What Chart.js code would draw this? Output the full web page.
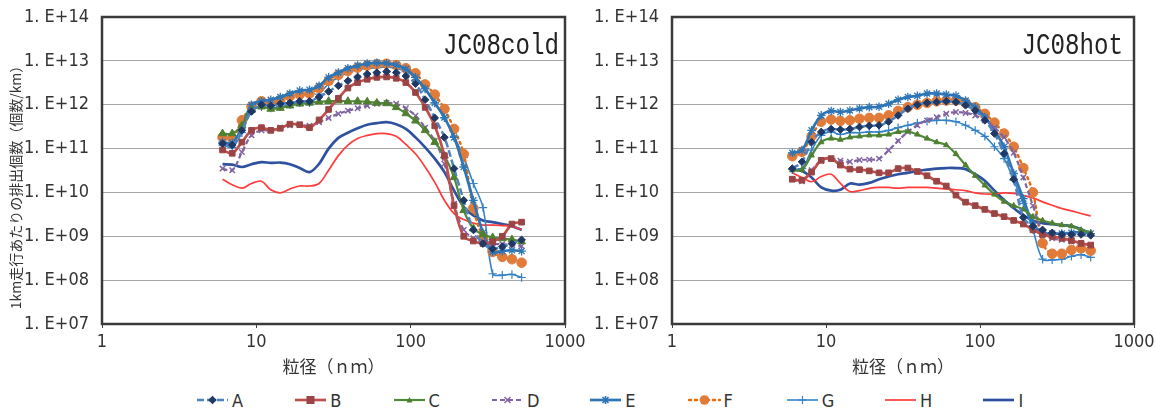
<!DOCTYPE html>
<html><head><meta charset="utf-8">
<script src="https://cdn.jsdelivr.net/npm/chart.js@4.4.1/dist/chart.umd.min.js"></script>
<style>
html,body{margin:0;padding:0;background:#fff;width:1156px;height:410px;overflow:hidden;}
#c1{position:absolute;left:0;top:0;}
#c2{position:absolute;left:575px;top:0;}
#legend{position:absolute;left:0;top:389px;width:1156px;height:22px;}
.item{position:absolute;top:0;height:22px;display:flex;align-items:center;font-family:'Liberation Sans Narrow','DejaVu Sans Condensed',sans-serif;font-size:18px;color:#333;}
.item svg{margin-right:3px;}
</style></head><body>
<canvas id="c1" width="590" height="380"></canvas>
<canvas id="c2" width="581" height="380"></canvas>
<div id="legend"></div>
<script>
// ---------- data ----------
const sizes = [6.04, 6.98, 8.06, 9.31, 10.8, 12.4, 14.3, 16.5, 19.1, 22.1, 25.5, 29.4, 34.0, 39.2, 45.3, 52.3, 60.4, 69.8, 80.6, 93.1, 107.5, 124.1, 143.3, 165.5, 191.1, 220.7, 254.8, 294.3, 339.8, 392.4, 453.2, 523.3];
const seriesNames = ['A','B','C','D','E','F','G','H','I'];
const xTickValues = [1, 10, 100, 1000];
const xTickLabels = ['1', '10', '100', '1000'];
const yTickValues = [1e7, 1e8, 1e9, 1e10, 1e11, 1e12, 1e13, 1e14];
const yTickLabels = ['1. E+07', '1. E+08', '1. E+09', '1. E+10', '1. E+11', '1. E+12', '1. E+13', '1. E+14'];
const chartTitles = ['JC08cold', 'JC08hot'];
const yAxisTitle = '1km走行あたりの排出個数（個数/km）';
const xAxisTitle = '粒径（ｎｍ）';

const coldA = [1.3e11, 1.2e11, 2.6e11, 7e11, 1e12, 9.5e11, 1.05e12, 1.1e12, 1.2e12, 1.2e12, 1.5e12, 2e12, 2.7e12, 3.5e12, 4.3e12, 5e12, 5.4e12, 5.7e12, 5.4e12, 4.5e12, 3e12, 1.3e12, 5e11, 1.8e11, 3.5e10, 6.6e9, 1.4e9, 6.8e8, 5.2e8, 5.8e8, 6.8e8, 8.3e8];
const coldB = [9.3e10, 7.8e10, 1.4e11, 2.6e11, 3e11, 2.6e11, 2.9e11, 3.6e11, 3.5e11, 3e11, 4.5e11, 7.8e11, 1.4e12, 2.4e12, 3.2e12, 3.8e12, 4.2e12, 4.3e12, 4e12, 3.2e12, 1.9e12, 8.7e11, 3.3e11, 6.9e10, 5e9, 1e9, 7.8e8, 6.8e8, 7.5e8, 1e9, 1.9e9, 2.1e9];
const coldC = [2.2e11, 2.2e11, 3.3e11, 7.6e11, 9e11, 8e11, 8.4e11, 9.5e11, 1.05e12, 1.1e12, 1.17e12, 1.2e12, 1.23e12, 1.2e12, 1.2e12, 1.17e12, 1.1e12, 1.07e12, 8.7e11, 6.3e11, 4.3e11, 2.6e11, 1.4e11, 6.9e10, 2.2e10, 3.9e9, 1.5e9, 1.1e9, 9.4e8, 8.9e8, 8.4e8, 7.6e8];
const coldD = [3.5e10, 3.2e10, 8.3e10, 2e11, 2.6e11, 2.6e11, 3e11, 3.4e11, 3.5e11, 3.3e11, 4e11, 5e11, 6.2e11, 7.3e11, 8.3e11, 9.5e11, 1.05e12, 1.1e12, 1.05e12, 8.3e11, 5.6e11, 3e11, 1.5e11, 4.5e10, 5.5e9, 1.4e9, 9e8, 7.6e8, 6.8e8, 6.6e8, 6.3e8, 6e8];
const coldE = [1.4e11, 1.35e11, 3e11, 1e12, 1.2e12, 1.3e12, 1.5e12, 1.8e12, 2.1e12, 2.2e12, 2.7e12, 4.2e12, 5.4e12, 6.8e12, 7.8e12, 8.7e12, 9e12, 8.8e12, 8e12, 6.5e12, 4.2e12, 2.3e12, 1.1e12, 5.1e11, 1.8e11, 3.8e10, 6.6e9, 1.2e9, 4.4e8, 4.6e8, 4.8e8, 4.6e8];
const coldF = [1.8e11, 1.7e11, 4.4e11, 9e11, 1.2e12, 1.1e12, 1.28e12, 1.55e12, 1.7e12, 1.8e12, 2.4e12, 3.5e12, 4.8e12, 5.9e12, 7e12, 7.8e12, 8.4e12, 8.6e12, 8e12, 6.8e12, 5.2e12, 2.9e12, 1.7e12, 8e11, 2.8e11, 7.5e10, 4.4e9, 9.3e8, 4.4e8, 3.4e8, 3e8, 2.5e8];
const coldG = [1.2e11, 1.07e11, 2.3e11, 7.3e11, 9e11, 8.4e11, 9e11, 1e12, 1.1e12, 1.1e12, 1.75e12, 3e12, 4.2e12, 5.4e12, 6.3e12, 6.8e12, 7e12, 7.3e12, 6.8e12, 5.7e12, 4.2e12, 2.4e12, 1.1e12, 5e11, 1.9e11, 6.3e10, 1.6e10, 4.5e9, 1.4e8, 1.3e8, 1.35e8, 1.15e8];
const coldH = [2e10, 1.5e10, 1.25e10, 1.6e10, 1.8e10, 1.15e10, 9.8e9, 1.2e10, 1.4e10, 1.4e10, 1.6e10, 3.2e10, 6.9e10, 1.2e11, 1.7e11, 2e11, 2.2e11, 2.2e11, 1.9e11, 1.25e11, 7.6e10, 3.8e10, 1.7e10, 6.6e9, 3.3e9, 2.4e9, 2e9, 1.8e9, 1.8e9, 1.75e9, 1.7e9, 1.4e9];
const coldI = [4.4e10, 4.3e10, 3.8e10, 4.4e10, 4.9e10, 4.7e10, 4.8e10, 4.4e10, 3.6e10, 2.9e10, 4.5e10, 1e11, 1.75e11, 2.3e11, 2.9e11, 3.5e11, 3.8e11, 4e11, 3.6e11, 2.8e11, 1.8e11, 1.07e11, 5.9e10, 2.9e10, 1.1e10, 4.7e9, 3e9, 2.3e9, 2.1e9, 1.9e9, 1.7e9, 1.4e9];

const hotA = [3.5e10, 5e10, 1.4e11, 2.4e11, 2.8e11, 2.7e11, 2.8e11, 3.1e11, 3.3e11, 3.4e11, 4.1e11, 5.7e11, 8.1e11, 1e12, 1.1e12, 1.15e12, 1.2e12, 1.15e12, 9.7e11, 7.4e11, 4.4e11, 2.2e11, 7.7e10, 2e10, 2.7e9, 1.7e9, 1.4e9, 1.2e9, 1.1e9, 1.1e9, 1.1e9, 1.05e9];
const hotB = [2e10, 1.9e10, 2.9e10, 5.4e10, 5.9e10, 4.2e10, 3.4e10, 3.3e10, 3.1e10, 2.8e10, 2.8e10, 3.5e10, 3.6e10, 3e10, 2.4e10, 1.8e10, 1.4e10, 8.7e9, 6e9, 5e9, 4.1e9, 3.3e9, 2.8e9, 2.3e9, 1.9e9, 1.4e9, 1.1e9, 1e9, 9e8, 8e8, 6.9e8, 6.3e8];
const hotC = [3.2e10, 3.3e10, 7e10, 1.4e11, 1.7e11, 1.6e11, 1.8e11, 1.9e11, 2e11, 2e11, 2.1e11, 2.4e11, 2.45e11, 2.1e11, 1.7e11, 1.4e11, 1.2e11, 7.5e10, 4.2e10, 2.4e10, 1.45e10, 9e9, 6.2e9, 5e9, 4.1e9, 2.8e9, 2.3e9, 2e9, 1.8e9, 1.7e9, 1.4e9, 1.2e9];
const hotD = [2e10, 1.8e10, 3.2e10, 5.3e10, 5.9e10, 5.3e10, 5e10, 5.5e10, 5.6e10, 5.9e10, 9.1e10, 1.5e11, 2.4e11, 3.4e11, 4.4e11, 5.2e11, 6.2e11, 6.8e11, 6.5e11, 5.7e11, 4.4e11, 3e11, 1.8e11, 8e10, 2.2e10, 5e9, 1.3e9, 9e8, 8.3e8, 7.6e8, 6.9e8, 6.3e8];
const hotE = [8e10, 9.2e10, 2.6e11, 5.7e11, 7.2e11, 6.8e11, 7.4e11, 8.2e11, 8.8e11, 9e11, 1.05e12, 1.3e12, 1.5e12, 1.6e12, 1.8e12, 1.8e12, 1.7e12, 1.6e12, 1.25e12, 8.8e11, 5.2e11, 2.6e11, 1.1e11, 2.7e10, 7.2e9, 2e9, 1.2e9, 1.15e9, 1.15e9, 1.2e9, 1.25e9, 1.15e9];
const hotF = [6.7e10, 8.4e10, 1.9e11, 4.1e11, 4.6e11, 4.3e11, 4.4e11, 4.8e11, 5e11, 5e11, 5.7e11, 7.2e11, 8.8e11, 1e12, 1.1e12, 1.2e12, 1.25e12, 1.25e12, 1.1e12, 8.8e11, 6.2e11, 3.9e11, 2.2e11, 1.1e11, 3.6e10, 1e10, 7e8, 4e8, 4e8, 4.9e8, 5.3e8, 4.7e8];
const hotG = [3.3e10, 3.5e10, 9.2e10, 2e11, 2.4e11, 2.1e11, 2.3e11, 2.3e11, 2.4e11, 2.4e11, 2.6e11, 3e11, 3.4e11, 3.8e11, 4.2e11, 4.4e11, 4.4e11, 4.1e11, 3.4e11, 2.6e11, 1.9e11, 1.1e11, 5.9e10, 1.9e10, 5.6e9, 1.4e9, 3e8, 2.9e8, 3e8, 3.5e8, 3.8e8, 3.3e8];
const hotH = [2.8e10, 2.2e10, 1.75e10, 2.3e10, 2.6e10, 1.6e10, 1.05e10, 1.1e10, 1.24e10, 1.3e10, 1.3e10, 1.25e10, 1.3e10, 1.3e10, 1.3e10, 1.25e10, 1.2e10, 1.15e10, 1.1e10, 9.8e9, 9.2e9, 9.2e9, 9.8e9, 9.5e9, 8.5e9, 7.5e9, 6.1e9, 5.1e9, 4.3e9, 3.8e9, 3.3e9, 2.9e9];
const hotI = [3.3e10, 3.1e10, 2.2e10, 1.3e10, 1.1e10, 1.15e10, 1.6e10, 1.5e10, 1.65e10, 2e10, 2.3e10, 2.6e10, 2.8e10, 3.1e10, 3.3e10, 3.5e10, 3.6e10, 3.6e10, 3.4e10, 2.6e10, 1.85e10, 1.1e10, 6.7e9, 4.4e9, 3e9, 2.3e9, 2e9, 1.9e9, 1.8e9, 1.7e9, 1.45e9, 1.15e9];

const coldSeries = [coldA, coldB, coldC, coldD, coldE, coldF, coldG, coldH, coldI];
const hotSeries = [hotA, hotB, hotC, hotD, hotE, hotF, hotG, hotH, hotI];

// ---------- styles ----------
const styles = [
  {borderColor:'#4f81bd', borderWidth:2.5, borderDash:[7,3], pointStyle:'rectRot', pointRadius:3.8, pointBackgroundColor:'#1f3864', pointBorderColor:'#1f3864', pointBorderWidth:1},
  {borderColor:'#c0504d', borderWidth:2.7, pointStyle:'rect', pointRadius:4, pointBackgroundColor:'#9a4545', pointBorderColor:'#9a4545', pointBorderWidth:1},
  {borderColor:'#4e8a3a', borderWidth:2.2, pointStyle:'triangle', pointRadius:4.5, pointBackgroundColor:'#4f7f2f', pointBorderColor:'#4f7f2f', pointBorderWidth:1},
  {borderColor:'#8064a2', borderWidth:2.2, borderDash:[5,3], pointStyle:'crossRot', pointRadius:3.8, pointBackgroundColor:'#8064a2', pointBorderColor:'#8064a2', pointBorderWidth:1.5},
  {borderColor:'#2e75b6', borderWidth:2.7, pointStyle:'star', pointRadius:4.3, pointBackgroundColor:'#2e75b6', pointBorderColor:'#2e75b6', pointBorderWidth:1.3},
  {borderColor:'#e46c0a', borderWidth:2.5, borderDash:[2,4], borderCapStyle:'round', pointStyle:'circle', pointRadius:4.8, pointBackgroundColor:'#e07b39', pointBorderColor:'#e07b39', pointBorderWidth:1},
  {borderColor:'#3483c9', borderWidth:1.6, pointStyle:'cross', pointRadius:4.2, pointBackgroundColor:'#3483c9', pointBorderColor:'#3483c9', pointBorderWidth:1.2},
  {borderColor:'#ff3b3b', borderWidth:1.7, pointRadius:0},
  {borderColor:'#2f52a0', borderWidth:2.7, pointRadius:0}
];

const narrowFont = "'Liberation Sans Narrow', 'DejaVu Sans Condensed', sans-serif";

const framePlugin = {
  id:'frame',
  afterDraw(chart){
    const {ctx, chartArea:a} = chart;
    ctx.save();
    ctx.strokeStyle = '#3a3a3a';
    ctx.lineWidth = 2.5;
    ctx.strokeRect(a.left, a.top, a.right - a.left, a.bottom - a.top);
    ctx.restore();
  }
};

function textPlugin(title, titleRightOffset, showYTitle){
  return {
    id:'texts',
    afterDraw(chart){
      const {ctx, chartArea:a} = chart;
      ctx.save();
      ctx.fillStyle = '#222';
      ctx.font = "30px 'Liberation Mono', 'DejaVu Sans Mono', monospace";
      ctx.textAlign = 'right';
      ctx.textBaseline = 'alphabetic';
      ctx.translate(a.right - titleRightOffset, 54);
      const w = ctx.measureText(title).width;
      ctx.scale((14.5 * title.length) / w, 1);
      ctx.fillText(title, 0, 0);
      ctx.restore();
      if (showYTitle){
        ctx.save();
        ctx.fillStyle = '#333';
        ctx.font = "14px 'Noto Sans CJK JP', sans-serif";
        ctx.textAlign = 'center';
        ctx.textBaseline = 'middle';
        ctx.translate(16, 184);
        ctx.rotate(-Math.PI/2);
        ctx.fillText(yAxisTitle, 0, 0);
        ctx.restore();
      }
    }
  };
}

function makeChart(id, series, yWidth, padRight, title, titleOffset, showYTitle, triRadius){
  const datasets = seriesNames.map((name, i) => {
    const st = Object.assign({}, styles[i]);
    if (i === 2) st.pointRadius = triRadius;
    return Object.assign({
      label:name,
      data:sizes.map((x, j) => ({x:x, y:series[i][j]})),
      fill:false, tension:0.35
    }, st);
  });
  return new Chart(document.getElementById(id), {
    type:'line',
    data:{datasets},
    options:{
      responsive:false, animation:false, devicePixelRatio:1,
      layout:{padding:{top:17, right:padRight, left:0, bottom:0}},
      plugins:{legend:{display:false}, tooltip:{enabled:false}},
      scales:{
        x:{
          type:'logarithmic', min:1, max:1000,
          afterBuildTicks(s){ s.ticks = xTickValues.map(v => ({value:v})); },
          afterFit(s){ s.height = 56; s.paddingLeft = 0; s.paddingRight = 0; },
          ticks:{autoSkip:false, maxRotation:0, padding:4, color:'#333',
            font:{family:narrowFont, size:18},
            callback:(v, i) => xTickLabels[i]},
          grid:{drawOnChartArea:false, drawTicks:true, tickLength:4, color:'#404040'},
          border:{display:false},
          title:{display:true, text:xAxisTitle, color:'#333',
            font:{family:"'Noto Sans CJK JP', sans-serif", size:17}, padding:{top:0, bottom:3}}
        },
        y:{
          type:'logarithmic', min:1e7, max:1e14,
          afterBuildTicks(s){ s.ticks = yTickValues.map(v => ({value:v})); },
          afterFit(s){ s.width = yWidth; s.paddingTop = 0; s.paddingBottom = 0; },
          ticks:{autoSkip:false, padding:13, color:'#333',
            font:{family:narrowFont, size:18},
            callback:(v, i) => yTickLabels[i]},
          grid:{color:'#a6a6a6', lineWidth:1, drawTicks:false},
          border:{display:false}
        }
      }
    },
    plugins:[framePlugin, textPlugin(title, titleOffset, showYTitle)]
  });
}

makeChart('c1', coldSeries, 102, 25, chartTitles[0], 6, true, 4.5);
makeChart('c2', hotSeries, 97, 22, chartTitles[1], 11, false, 3.2);

// ---------- legend ----------
function markerSvg(st, cx, cy){
  const c = st.pointBorderColor || st.borderColor;
  const f = st.pointBackgroundColor || c;
  const r = st.pointRadius || 0;
  switch(st.pointStyle){
    case 'rectRot': return `<polygon points="${cx},${cy-r-0.5} ${cx+r+0.5},${cy} ${cx},${cy+r+0.5} ${cx-r-0.5},${cy}" fill="${f}"/>`;
    case 'rect': return `<rect x="${cx-r}" y="${cy-r}" width="${2*r}" height="${2*r}" fill="${f}"/>`;
    case 'triangle': return `<polygon points="${cx},${cy-3} ${cx+3},${cy+2.5} ${cx-3},${cy+2.5}" fill="${f}"/>`;
    case 'crossRot': return `<path d="M${cx-3},${cy-3}L${cx+3},${cy+3}M${cx+3},${cy-3}L${cx-3},${cy+3}" stroke="${c}" stroke-width="1.5"/>`;
    case 'star': return `<path d="M${cx-4},${cy}L${cx+4},${cy}M${cx},${cy-4}L${cx},${cy+4}M${cx-3},${cy-3}L${cx+3},${cy+3}M${cx+3},${cy-3}L${cx-3},${cy+3}" stroke="${c}" stroke-width="1.6"/>`;
    case 'circle': return `<circle cx="${cx}" cy="${cy}" r="${r}" fill="${f}"/>`;
    case 'cross': return `<path d="M${cx-4},${cy}L${cx+4},${cy}M${cx},${cy-4}L${cx},${cy+4}" stroke="${c}" stroke-width="1.2"/>`;
    default: return '';
  }
}
const legendEl = document.getElementById('legend');
seriesNames.forEach((n, i) => {
  const st = styles[i];
  const dash = st.borderDash ? `stroke-dasharray="${st.borderDash.join(',')}"` : '';
  const cap = st.borderCapStyle === 'round' ? 'stroke-linecap="round"' : '';
  const svg = `<svg width="33" height="14" viewBox="0 0 33 14"><line x1="1" y1="7" x2="32" y2="7" stroke="${st.borderColor}" stroke-width="${st.borderWidth}" ${dash} ${cap}/>${markerSvg(st, 16.5, 7)}</svg>`;
  const div = document.createElement('div');
  div.className = 'item';
  div.style.left = (196 + i * 98.3) + 'px';
  div.innerHTML = svg + '<span>' + n + '</span>';
  legendEl.appendChild(div);
});
</script>
</body></html>
